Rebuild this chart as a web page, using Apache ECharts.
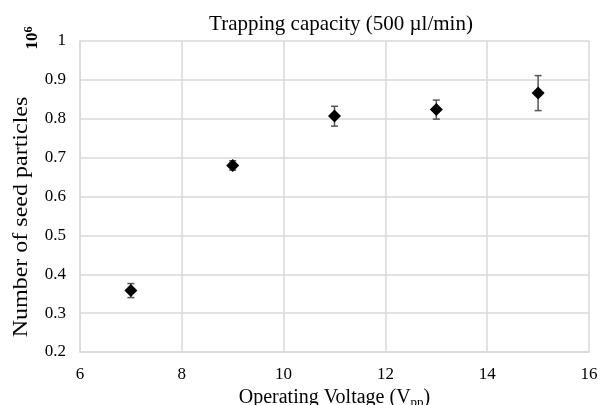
<!DOCTYPE html>
<html>
<head>
<meta charset="utf-8">
<script src="https://cdn.jsdelivr.net/npm/echarts@6/dist/echarts.min.js"></script>
<style>
  html, body { margin: 0; padding: 0; background: #fff; }
  #chart { width: 600px; height: 405px; }
</style>
</head>
<body>
<div id="chart"></div>
<script>
// operating voltage (Vpp) and trapped particles (x10^6)
const voltages = [7, 9, 11, 13, 15];
const particles = [0.358, 0.680, 0.807, 0.824, 0.866];
const errLow = [0.340, 0.668, 0.781, 0.799, 0.821];
const errHigh = [0.376, 0.692, 0.832, 0.848, 0.911];

const serif = "'Liberation Serif', 'DejaVu Serif', serif";
const gridColor = "#d9d9d9";

let myChart = echarts.init(document.getElementById("chart"));

let points = voltages.map((v, i) => [v, particles[i]]);
let bars = voltages.map((v, i) => [v, errLow[i], errHigh[i]]);

function renderErr(params, api) {
  let x = api.value(0);
  let lo = api.coord([x, api.value(1)]);
  let hi = api.coord([x, api.value(2)]);
  let cap = 3.5;
  let style = { stroke: "#555", lineWidth: 1.5 };
  return {
    type: "group",
    children: [
      { type: "line", shape: { x1: lo[0], y1: lo[1], x2: hi[0], y2: hi[1] }, style: style },
      { type: "line", shape: { x1: hi[0] - cap, y1: hi[1], x2: hi[0] + cap, y2: hi[1] }, style: style },
      { type: "line", shape: { x1: lo[0] - cap, y1: lo[1], x2: lo[0] + cap, y2: lo[1] }, style: style }
    ]
  };
}

let option = {
  animation: false,
  title: {
    text: "Trapping capacity (500 µl/min)",
    left: 336,
    textAlign: "center",
    top: 9,
    textStyle: { fontFamily: serif, fontSize: 21, fontWeight: "normal", color: "#000" }
  },
  grid: { left: 80, right: 11, top: 41, bottom: 53, containLabel: false, outerBoundsMode: "none" },
  xAxis: {
    type: "value",
    min: 6,
    max: 16,
    interval: 2,
    name: "{n|Operating Voltage (V}{s|pp}{n|)}",
    nameLocation: "middle",
    nameGap: 27,
    nameTextStyle: {
      rich: {
        n: { fontFamily: serif, fontSize: 20, color: "#000" },
        s: { fontFamily: serif, fontSize: 13, color: "#000", verticalAlign: "bottom", padding: [10, 0, 0, 0] }
      }
    },
    axisLine: { lineStyle: { color: gridColor, width: 1.5 } },
    axisTick: { show: false },
    axisLabel: { fontFamily: serif, fontSize: 17, color: "#000", margin: 14 },
    splitLine: { lineStyle: { color: gridColor, width: 1.5 } }
  },
  yAxis: {
    type: "value",
    min: 0.2,
    max: 1,
    interval: 0.1,
    axisLine: { show: true, lineStyle: { color: gridColor, width: 1.5 } },
    axisTick: { show: false },
    axisLabel: {
      fontFamily: serif, fontSize: 17, color: "#000", margin: 14,
      formatter: v => String(Math.round(v * 10) / 10)
    },
    splitLine: { lineStyle: { color: gridColor, width: 1.5 } }
  },
  graphic: [
    {
      type: "text",
      x: 22, y: 217, rotation: Math.PI / 2, scaleX: 1.2,
      style: {
        text: "Number of seed particles", fontFamily: serif, fontSize: 20,
        fill: "#000", align: "center", verticalAlign: "middle"
      }
    },
    {
      type: "text",
      x: 33, y: 38, rotation: Math.PI / 2,
      style: {
        text: "{b|10}{sup|6}",
        align: "center", verticalAlign: "middle",
        rich: {
          b: { fontFamily: serif, fontSize: 17, fontWeight: "bold", fill: "#000" },
          sup: { fontFamily: serif, fontSize: 12, fontWeight: "bold", fill: "#000", verticalAlign: "top", padding: [0, 0, 8, 0] }
        }
      }
    }
  ],
  series: [
    {
      type: "custom",
      renderItem: renderErr,
      data: bars,
      z: 2
    },
    {
      type: "scatter",
      symbol: "diamond",
      symbolSize: 13,
      itemStyle: { color: "#000", opacity: 1 },
      data: points,
      z: 3
    }
  ]
};
myChart.setOption(option);
</script>
</body>
</html>
